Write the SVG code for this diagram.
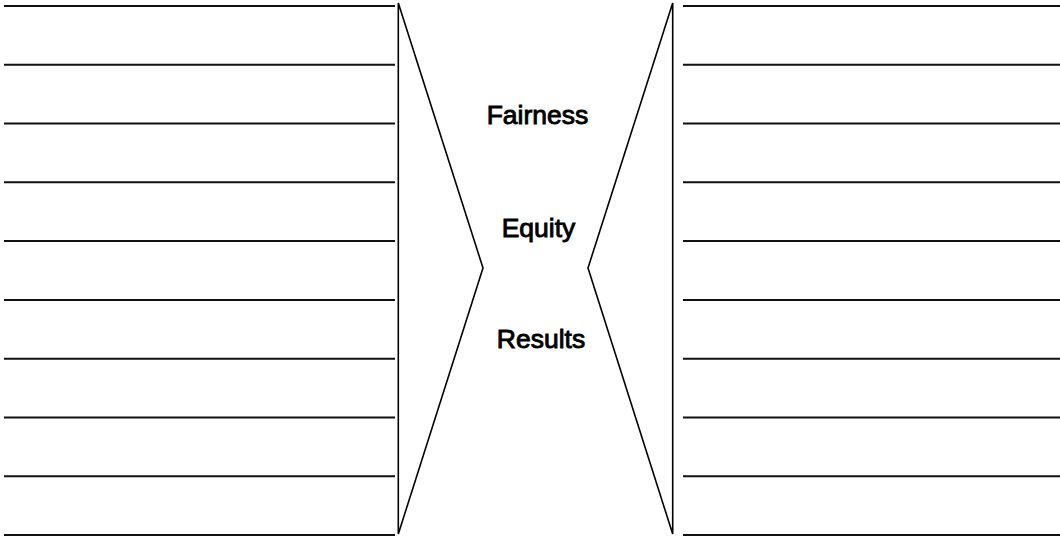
<svg xmlns="http://www.w3.org/2000/svg" width="1060" height="537" viewBox="0 0 1060 537">
<style>
.ln{stroke:#111;stroke-width:2;fill:none}
.fr{stroke:#000;stroke-width:1.6;fill:none;stroke-linejoin:miter}
.lb{font-family:"Liberation Sans",Arial,sans-serif;font-size:26.5px;fill:#000;stroke:#000;stroke-width:0.9;text-anchor:middle}
</style>
<rect width="1060" height="537" fill="#fff"/>
<g id="connectors">
<g id="left-lines">
<line class="ln" x1="4" y1="6" x2="395" y2="6"/>
<line class="ln" x1="4" y1="64.8" x2="395" y2="64.8"/>
<line class="ln" x1="4" y1="123.6" x2="395" y2="123.6"/>
<line class="ln" x1="4" y1="182.3" x2="395" y2="182.3"/>
<line class="ln" x1="4" y1="241.1" x2="395" y2="241.1"/>
<line class="ln" x1="4" y1="299.9" x2="395" y2="299.9"/>
<line class="ln" x1="4" y1="358.7" x2="395" y2="358.7"/>
<line class="ln" x1="4" y1="417.4" x2="395" y2="417.4"/>
<line class="ln" x1="4" y1="476.2" x2="395" y2="476.2"/>
<line class="ln" x1="4" y1="535" x2="395" y2="535"/>
</g>
<g id="right-lines">
<line class="ln" x1="683" y1="6" x2="1060" y2="6"/>
<line class="ln" x1="683" y1="64.8" x2="1060" y2="64.8"/>
<line class="ln" x1="683" y1="123.6" x2="1060" y2="123.6"/>
<line class="ln" x1="683" y1="182.3" x2="1060" y2="182.3"/>
<line class="ln" x1="683" y1="241.1" x2="1060" y2="241.1"/>
<line class="ln" x1="683" y1="299.9" x2="1060" y2="299.9"/>
<line class="ln" x1="683" y1="358.7" x2="1060" y2="358.7"/>
<line class="ln" x1="683" y1="417.4" x2="1060" y2="417.4"/>
<line class="ln" x1="683" y1="476.2" x2="1060" y2="476.2"/>
<line class="ln" x1="683" y1="535" x2="1060" y2="535"/>
</g>
</g>
<g id="left-funnel">
<path class="fr" d="M398.3,3 L398.3,534 L483,268 Z"/>
</g>
<g id="right-funnel">
<path class="fr" d="M672.7,3 L672.7,534 L588,268 Z"/>
</g>
<g id="fairness"><text class="lb" x="537.5" y="123.5">Fairness</text></g>
<g id="equity"><text class="lb" x="538.5" y="236.5">Equity</text></g>
<g id="results"><text class="lb" x="541" y="348">Results</text></g>
</svg>
